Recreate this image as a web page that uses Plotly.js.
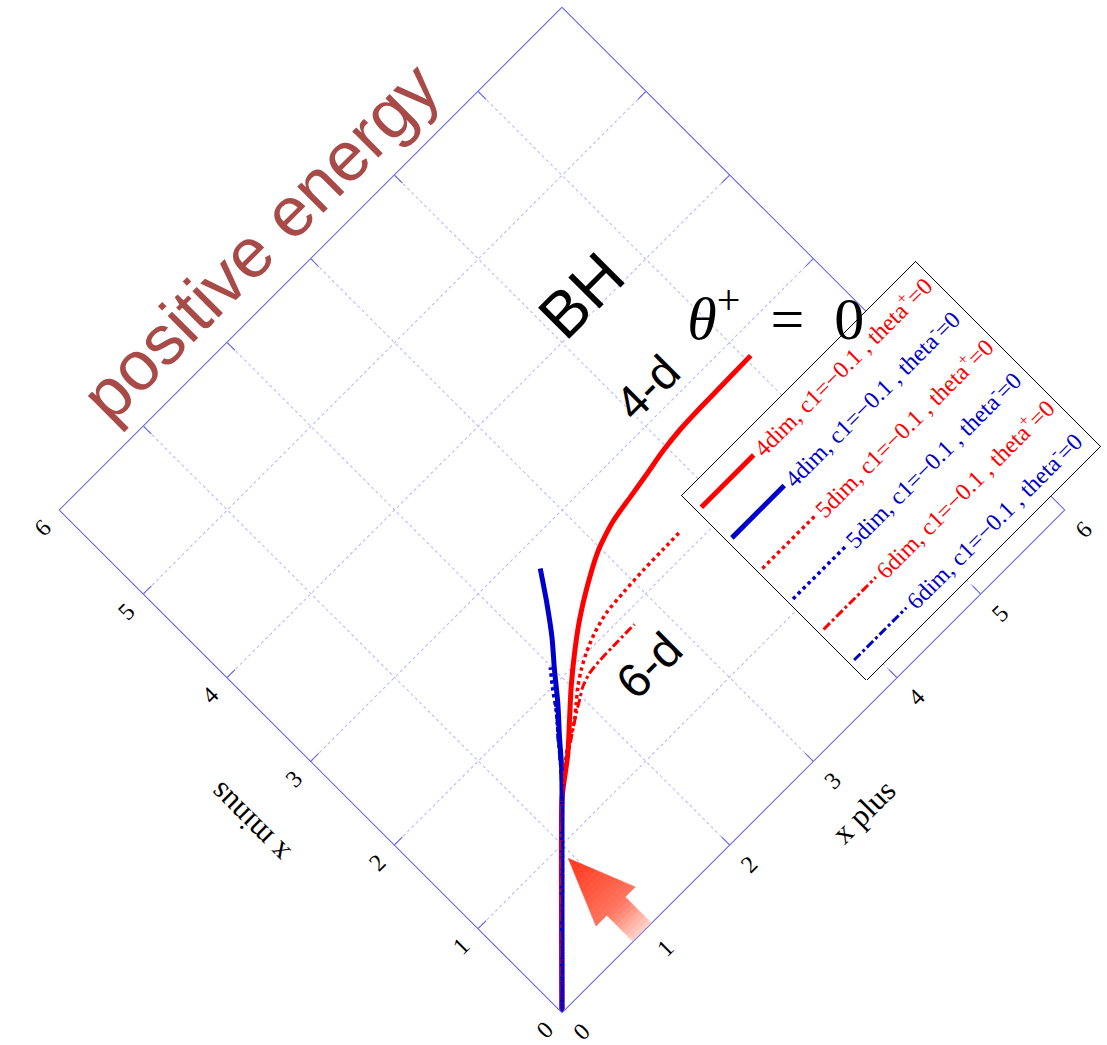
<!DOCTYPE html>
<html>
<head>
<meta charset="utf-8">
<script src="https://cdn.plot.ly/plotly-3.0.1.min.js"></script>
<style>
  html, body { margin: 0; padding: 0; overflow: hidden; background: #fff; width: 1107px; height: 1045px; }
  #frame { position: absolute; left: 62px; top: 10px; width: 1000px; height: 1000px; transform-origin: 50% 50%; }
  #frame svg path { shape-rendering: geometricPrecision !important; }
</style>
</head>
<body>
<div id="frame"></div>
<script>
// Horizon tracks in light-cone coordinates (x plus, x minus)
const plus4dThetaP  = [0, 1.27, 1.355, 1.45, 1.58, 1.79, 2.0, 2.22, 2.45, 2.69, 2.95, 3.08, 3.25, 3.49, 3.73, 3.96, 4.19, 4.44, 4.76, 5.05];
const minus4dThetaP = [0, 1.27, 1.339, 1.41, 1.51, 1.70, 1.89, 2.07, 2.24, 2.39, 2.53, 2.58, 2.63, 2.67, 2.71, 2.75, 2.775, 2.785, 2.79, 2.795];

const plus4dThetaM  = [0, 1.30, 1.445, 1.63, 1.82, 2.0, 2.18, 2.35, 2.52];
const minus4dThetaM = [0, 1.30, 1.448, 1.66, 1.87, 2.09, 2.30, 2.53, 2.78];

const plus5dThetaP  = [0, 1.27, 1.46, 1.63, 1.82, 1.93, 2.04, 2.16, 2.29, 2.46, 2.65, 2.87, 3.13, 3.37, 3.59];
const minus5dThetaP = [0, 1.27, 1.43, 1.56, 1.67, 1.76, 1.85, 1.93, 2.0, 2.07, 2.12, 2.14, 2.155, 2.16, 2.165];

const plus5dThetaM  = [0, 1.30, 1.50, 1.66, 1.77, 1.87, 1.99];
const minus5dThetaM = [0, 1.30, 1.52, 1.71, 1.84, 1.98, 2.13];

const plus6dThetaP  = [0, 1.27, 1.50, 1.72, 1.87, 1.97, 2.07, 2.19, 2.33, 2.49, 2.75];
const minus6dThetaP = [0, 1.27, 1.45, 1.60, 1.70, 1.76, 1.82, 1.86, 1.875, 1.88, 1.885];

const plus6dThetaM  = [0, 1.30, 1.48, 1.62, 1.72, 1.80];
const minus6dThetaM = [0, 1.30, 1.50, 1.67, 1.78, 1.88];

const seriesNames = [
  '4dim, c1=\u22120.1 , theta<sup>+</sup>=0',
  '4dim, c1=\u22120.1 , theta<sup>-</sup>=0',
  '5dim, c1=\u22120.1 , theta<sup>+</sup>=0',
  '5dim, c1=\u22120.1 , theta<sup>-</sup>=0',
  '6dim, c1=\u22120.1 , theta<sup>+</sup>=0',
  '6dim, c1=\u22120.1 , theta<sup>-</sup>=0'
];

const RED = '#ff0000';
const BLUE = '#0000cc';

function track(xs, ys, name, color, width, dash, idx) {
  return {
    type: 'scatter', mode: 'lines', x: xs, y: ys,
    name: '<span style="color:' + color + '">' + name + '</span>',
    legendgroup: 'g' + idx,
    line: { color: color, width: width, dash: dash, shape: 'spline', smoothing: 0.8 },
    hoverinfo: 'skip'
  };
}

const traces = [
  track(plus4dThetaP, minus4dThetaP, seriesNames[0], RED, 5, 'solid', 0),
  track(plus4dThetaM, minus4dThetaM, seriesNames[1], BLUE, 5, 'solid', 1),
  track(plus5dThetaP, minus5dThetaP, seriesNames[2], RED, 3.5, 'dot', 2),
  track(plus5dThetaM, minus5dThetaM, seriesNames[3], BLUE, 3.5, 'dot', 3),
  track(plus6dThetaP, minus6dThetaP, seriesNames[4], RED, 3, 'dashdot', 4),
  track(plus6dThetaM, minus6dThetaM, seriesNames[5], BLUE, 3, 'dashdot', 5)
];

// Block arrow pointing at the bifurcation, shaded from pale tail to deep tip
const arrowShaft = { left: 0.846, right: 1.066, v0: 0.0, v1: 0.31 };
const arrowHead = { left: 0.717, right: 1.185, base: 0.31, tipU: 0.956, tipV: 0.88 };
const arrowStops = [[0.0, [255, 212, 202]], [0.31, [255, 115, 92]], [0.88, [255, 52, 25]]];

function arrowColor(v) {
  for (let i = 0; i < arrowStops.length - 1; i++) {
    const a = arrowStops[i], b = arrowStops[i + 1];
    if (v <= b[0]) {
      const t = Math.max(0, (v - a[0]) / (b[0] - a[0]));
      const c = a[1].map((ch, k) => Math.round(ch + (b[1][k] - ch) * t));
      return 'rgb(' + c.join(',') + ')';
    }
  }
  const last = arrowStops[arrowStops.length - 1][1];
  return 'rgb(' + last.join(',') + ')';
}

function arrowShapes() {
  const shapes = [];
  const nShaft = 8, nHead = 14;
  for (let i = 0; i < nShaft; i++) {
    const va = arrowShaft.v0 + (arrowShaft.v1 - arrowShaft.v0) * i / nShaft;
    const vb = arrowShaft.v0 + (arrowShaft.v1 - arrowShaft.v0) * (i + 1) / nShaft;
    const col = arrowColor((va + vb) / 2);
    shapes.push({
      type: 'path', xref: 'x', yref: 'y', layer: 'above',
      path: 'M' + arrowShaft.left + ',' + va + 'L' + arrowShaft.right + ',' + va +
            'L' + arrowShaft.right + ',' + vb + 'L' + arrowShaft.left + ',' + vb + 'Z',
      fillcolor: col, line: { color: col, width: 0.6 }
    });
  }
  for (let i = 0; i < nHead; i++) {
    const ta = i / nHead, tb = (i + 1) / nHead;
    const va = arrowHead.base + (arrowHead.tipV - arrowHead.base) * ta;
    const vb = arrowHead.base + (arrowHead.tipV - arrowHead.base) * tb;
    const la = arrowHead.left + (arrowHead.tipU - arrowHead.left) * ta;
    const ra = arrowHead.right + (arrowHead.tipU - arrowHead.right) * ta;
    const lb = arrowHead.left + (arrowHead.tipU - arrowHead.left) * tb;
    const rb = arrowHead.right + (arrowHead.tipU - arrowHead.right) * tb;
    const col = arrowColor((va + vb) / 2);
    shapes.push({
      type: 'path', xref: 'x', yref: 'y', layer: 'above',
      path: 'M' + la + ',' + va + 'L' + ra + ',' + va + 'L' + rb + ',' + vb + 'L' + lb + ',' + vb + 'Z',
      fillcolor: col, line: { color: col, width: 0.6 }
    });
  }
  return shapes;
}

const AXIS_BLUE = '#5f5fee';
const GRID_BLUE = '#b4b4ff';
const SERIF = 'Liberation Serif, Times New Roman, serif';
const SANS = 'Liberation Sans, Arial, sans-serif';

function axisStyle(titleText, standoff, extra) {
  return Object.assign({
    range: [0, 6], tick0: 0, dtick: 1, autorange: false,
    color: AXIS_BLUE,
    showline: true, linecolor: AXIS_BLUE, linewidth: 1, mirror: 'ticks',
    ticks: 'inside', ticklen: 11, tickcolor: AXIS_BLUE, tickwidth: 1,
    showgrid: true, gridcolor: GRID_BLUE, gridwidth: 1, griddash: 'dot',
    zeroline: false, fixedrange: true,
    ticklabelstandoff: 6,
    tickfont: { family: SERIF, size: 24, color: '#000' },
    title: { text: titleText, font: { family: SERIF, size: 31, color: '#000' }, standoff: standoff }
  }, extra || {});
}

const layout = {
  width: 1000, height: 1000,
  margin: { l: 145, r: 145, t: 145, b: 145 },
  paper_bgcolor: '#fff', plot_bgcolor: '#fff',
  title: {
    text: 'positive energy',
    font: { family: SANS, size: 70, color: '#a84a47' },
    xref: 'container', yref: 'container', x: 0.4763, y: 0.9035,
    xanchor: 'center', yanchor: 'middle'
  },
  xaxis: axisStyle('x plus', 20),
  yaxis: axisStyle('x minus', 36, { tickangle: 0, ticklabelstandoff: 13 }),
  showlegend: true,
  legend: {
    x: 0.633, y: 0.026, xanchor: 'left', yanchor: 'bottom',
    bgcolor: '#fff', bordercolor: '#000', borderwidth: 1,
    font: { family: SERIF, size: 24, color: '#000' },
    traceorder: 'grouped', tracegroupgap: 9, itemwidth: 74
  },
  annotations: [
    { text: 'BH', x: 4.40, y: 4.17, xref: 'x', yref: 'y', showarrow: false,
      font: { family: SANS, size: 64, color: '#000' } },
    { text: '4-d', x: 4.24, y: 3.22, xref: 'x', yref: 'y', showarrow: false,
      font: { family: SANS, size: 47, color: '#000' } },
    { text: '6-d', x: 2.59, y: 1.55, xref: 'x', yref: 'y', showarrow: false,
      font: { family: SANS, size: 48, color: '#000' } },
    { text: '<i>\u03b8</i><sup>+</sup>\u2002=\u20020', x: 5.45, y: 2.89, xref: 'x', yref: 'y',
      showarrow: false, textangle: 45,
      font: { family: SERIF, size: 60, color: '#000' } }
  ],
  shapes: arrowShapes()
};

Plotly.newPlot('frame', traces, layout, { staticPlot: true, displayModeBar: false })
  .then(function () {
    document.getElementById('frame').style.transform = 'rotate(-45deg)';
  });
</script>
</body>
</html>
